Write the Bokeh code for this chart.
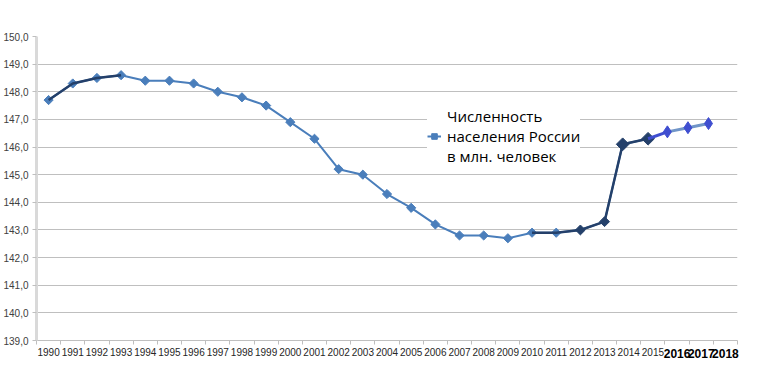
import numpy as np
from bokeh.plotting import figure
from bokeh.models import Range1d, FixedTicker, CustomJSTickFormatter, LinearAxis, Legend, LegendItem
from bokeh.embed import file_html
from bokeh.resources import INLINE

# ---- data ----
years = [1990, 1991, 1992, 1993, 1994, 1995, 1996, 1997, 1998, 1999, 2000, 2001,
         2002, 2003, 2004, 2005, 2006, 2007, 2008, 2009, 2010, 2011, 2012, 2013]
population = [147.7, 148.3, 148.5, 148.6, 148.4, 148.4, 148.3, 148.0, 147.8, 147.5,
              146.9, 146.3, 145.2, 145.0, 144.3, 143.8, 143.2, 142.8, 142.8, 142.7,
              142.9, 142.9, 143.0, 143.3]
# points appended at the end of the series (positions as drawn in the picture)
tail_x = [2013.75, 2014.8, 2015.6, 2016.45, 2017.3]
tail_population = [146.1, 146.3, 146.55, 146.7, 146.85]
category_years = list(range(1990, 2019))
bold_years = [2016, 2017, 2018]
y_ticks = list(range(139, 151))
series_label = "Численность\nнаселения России\nв млн. человек"

xs = years + tail_x
ys = population + tail_population

BLUE = "#4A7EBB"
DARK = "#24406A"
BRIGHT = "#3F4ED0"
LIGHT = "#7095C8"

p = figure(width=747, height=377, output_backend="svg", toolbar_location=None,
           x_range=Range1d(1989.5, 2018.5), y_range=Range1d(139, 150),
           min_border_left=36, min_border_right=10, min_border_top=36, min_border_bottom=37)
p.outline_line_color = None
p.background_fill_color = "white"
p.border_fill_color = "white"

# grid
p.xgrid.grid_line_color = None
p.ygrid.grid_line_color = "#BFBFBF"
p.ygrid.grid_line_width = 1

# y axis
p.yaxis.ticker = FixedTicker(ticks=y_ticks)
p.yaxis.formatter = CustomJSTickFormatter(code="return tick.toFixed(1).replace('.', ',');")
p.yaxis.axis_line_color = "#D9D9D9"
p.yaxis.axis_line_width = 3
p.yaxis.major_tick_line_color = "#BFBFBF"
p.yaxis.major_tick_out = 4
p.yaxis.major_tick_in = 0
p.yaxis.minor_tick_line_color = None
p.yaxis.major_label_text_font = "Liberation Sans"
p.yaxis.major_label_text_font_size = "10px"
p.yaxis.major_label_text_color = "#404040"
p.yaxis.major_label_standoff = 4

# x axis: labels at category centres, ticks at category boundaries
p.xaxis.ticker = FixedTicker(ticks=category_years,
                             minor_ticks=[y - 0.5 for y in category_years] + [category_years[-1] + 0.5])
p.xaxis.major_label_overrides = {y: "" for y in bold_years}
p.xaxis.axis_line_color = "#BFBFBF"
p.xaxis.major_tick_line_color = None
p.xaxis.major_tick_out = 0
p.xaxis.major_tick_in = 0
p.xaxis.minor_tick_line_color = "#BFBFBF"
p.xaxis.minor_tick_out = 4
p.xaxis.minor_tick_in = 0
p.xaxis.major_label_text_font = "Liberation Sans"
p.xaxis.major_label_text_font_size = "10px"
p.xaxis.major_label_text_color = "#262626"
p.xaxis.major_label_standoff = 3

# second axis carrying the bold labels of the last years
bold_axis = LinearAxis(ticker=FixedTicker(ticks=bold_years, minor_ticks=[]),
                       axis_line_color=None, major_tick_line_color=None,
                       minor_tick_line_color=None, major_tick_out=0, major_tick_in=0,
                       major_label_text_font="Liberation Sans", major_label_text_font_size="12px",
                       major_label_text_font_style="bold", major_label_text_color="black",
                       major_label_standoff=-10)
p.add_layout(bold_axis, "below")

# main series
main_line = p.line(xs[:26], ys[:26], line_color=BLUE, line_width=2)
main_pts = p.scatter(xs[:22], ys[:22], marker="square", angle=np.pi / 4, size=6.5,
                     fill_color=BLUE, line_color=BLUE)
# darker overlays
p.line(xs[0:4], ys[0:4], line_color=DARK, line_width=2.5)
p.line(xs[20:26], ys[20:26], line_color=DARK, line_width=2.5)
p.scatter(xs[22:24], ys[22:24], marker="square", angle=np.pi / 4, size=7,
          fill_color=DARK, line_color=DARK)
p.scatter(xs[24:26], ys[24:26], marker="square", angle=np.pi / 4, size=9,
          fill_color=DARK, line_color=DARK)
# appended tail
p.line(xs[25:27], ys[25:27], line_color=BRIGHT, line_width=3)
p.line(xs[26:29], ys[26:29], line_color=LIGHT, line_width=3)
p.scatter(xs[26:29], ys[26:29], marker="diamond", size=12,
          fill_color=BRIGHT, line_color=BRIGHT)

legend = Legend(items=[LegendItem(label=series_label, renderers=[main_line, main_pts])],
                location=(391, 174), background_fill_color="white", background_fill_alpha=1,
                border_line_color=None, label_text_font="Open Sans", label_text_font_size="15px",
                label_text_color="black", label_text_line_height=1.6, glyph_width=14,
                label_standoff=6, padding=6, margin=0)
p.add_layout(legend, "center")

open("out.html", "w").write(file_html(p, INLINE))
